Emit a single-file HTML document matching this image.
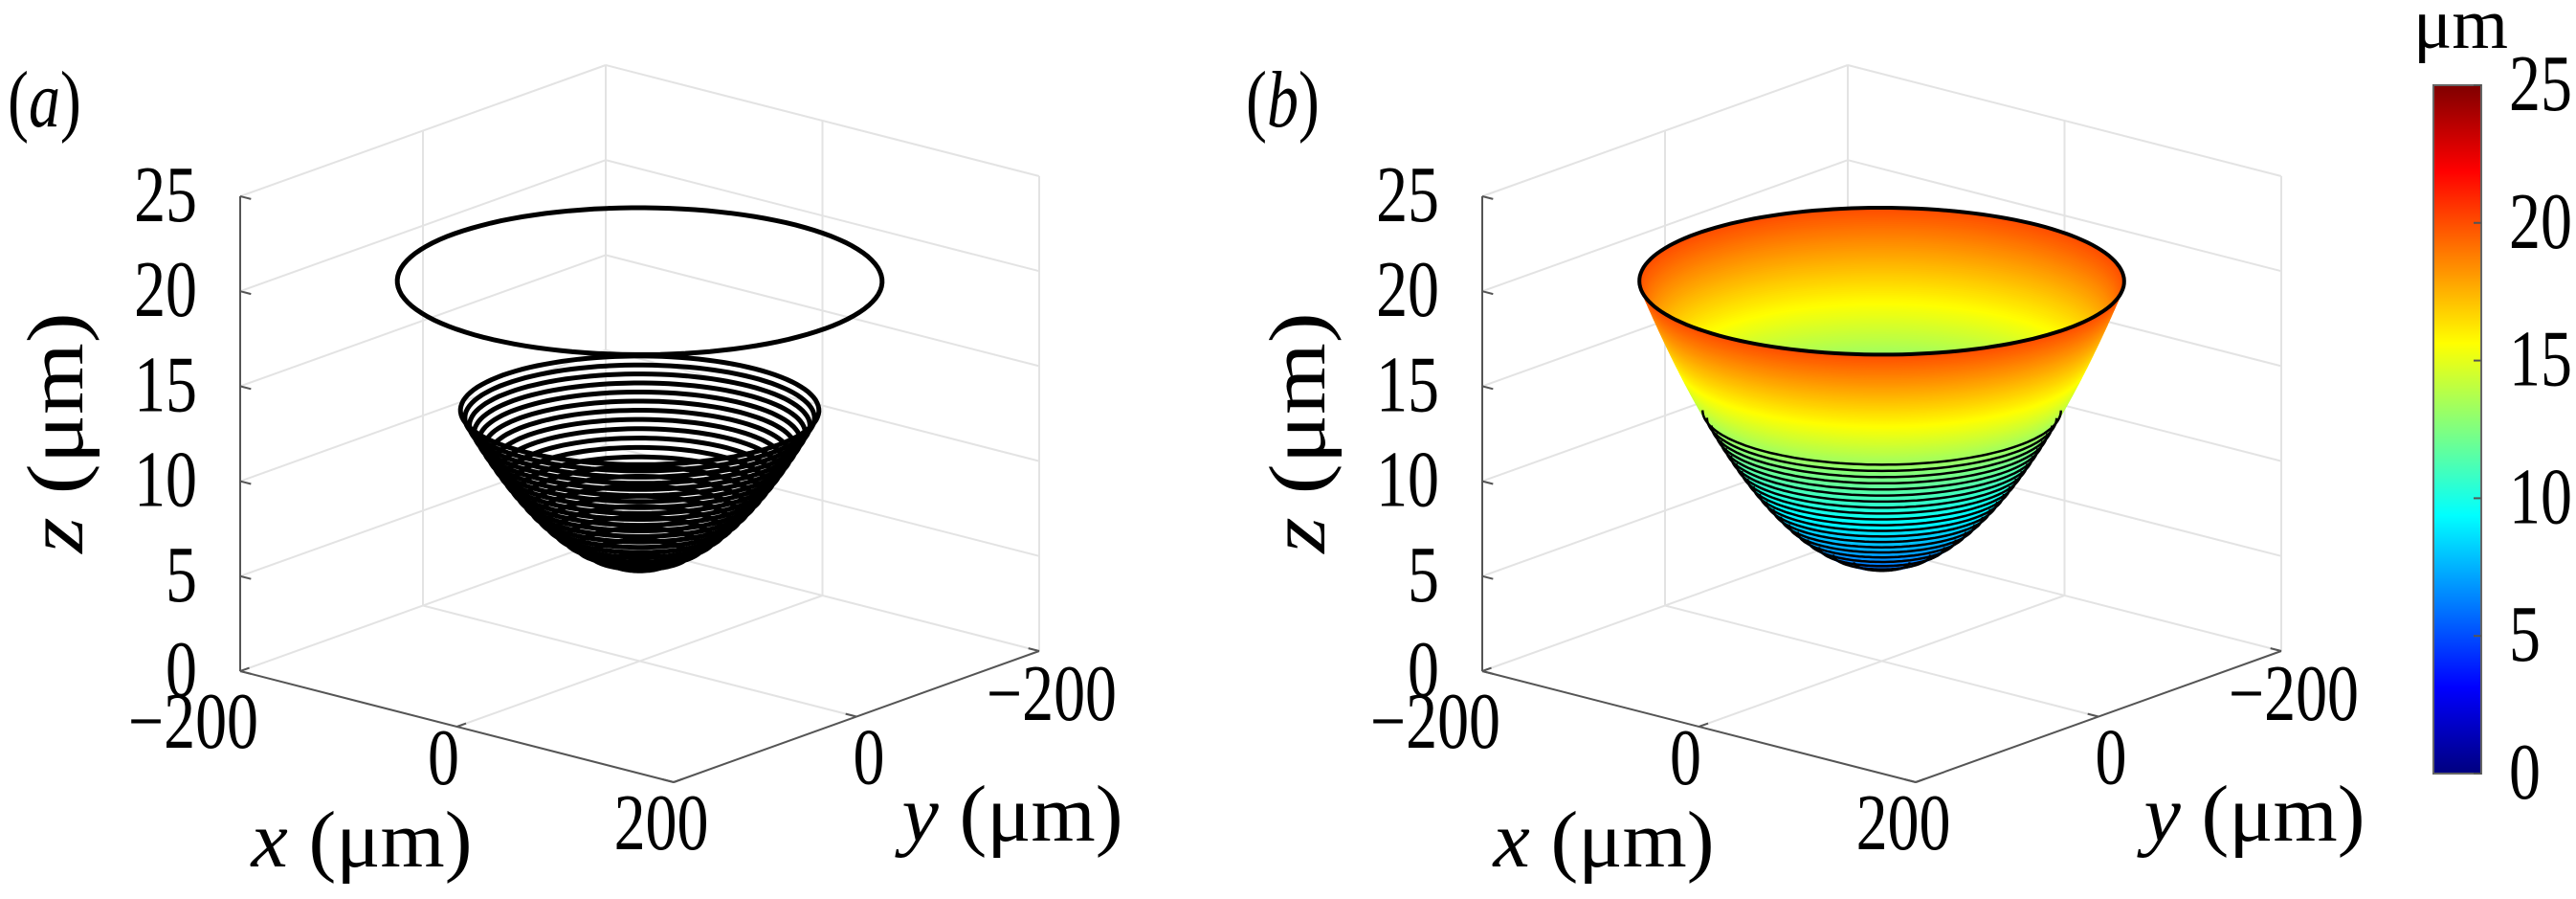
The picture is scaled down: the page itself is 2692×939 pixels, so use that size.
<!DOCTYPE html>
<html><head><meta charset="utf-8"><style>
html,body{margin:0;padding:0;background:#fff;}
svg{display:block;font-family:"Liberation Serif",serif;}
</style></head><body>
<svg id="fig" width="2692" height="939" viewBox="0 0 2692 939" xmlns="http://www.w3.org/2000/svg">
<defs>
<linearGradient id="jetgrad" x1="0" y1="1" x2="0" y2="0"></linearGradient>
</defs>
<g id="panelA"></g>
<g id="panelB"></g>
<g id="cbar"></g>
</svg>
<script>
const zTicks = [0, 5, 10, 15, 20, 25];
const xTicks = [-200, 0, 200];
const yTicks = [-200, 0, 200];
const ringZ = [5.2, 5.6, 6.0, 6.4, 6.8, 7.2, 7.6, 8.0, 8.4, 8.8, 9.2, 9.6, 10.0, 10.4, 10.8, 11.2, 11.6, 12.0, 12.4, 12.8, 13.2];
const topRingZ = [20];
const vertexZ = [5];
const curvature = [0.000513];
const cbTicks = [0, 5, 10, 15, 20, 25];

const NS = "http://www.w3.org/2000/svg";
const svg = document.getElementById('fig');
const SX = 1.03, SY = 1.3;
function mk(tag, attrs, parent) {
  const e = document.createElementNS(NS, tag);
  for (const k in attrs) e.setAttribute(k, attrs[k]);
  parent.appendChild(e);
  return e;
}
function txt(parent, x, y, html, anchor, size, rot, sx) {
  const t = mk('text', {x: 0, y: 0, 'font-size': size || 64, 'text-anchor': anchor || 'start',
    transform: `translate(${x},${y})` + (rot ? ` rotate(${rot})` : '') + ` scale(${sx || SX},${SY})`}, parent);
  t.innerHTML = html;
  return t;
}
function jet(v) {
  const t = Math.max(0, Math.min(1, v / 25));
  const c = x => Math.round(255 * Math.max(0, Math.min(1, x)));
  return `rgb(${c(1.5 - Math.abs(4 * t - 3))},${c(1.5 - Math.abs(4 * t - 2))},${c(1.5 - Math.abs(4 * t - 1))})`;
}
function proj(dx) {
  return (x, y, z) => [668.5 + dx + 1.1325 * x - 0.955 * y, 690.5 + 0.29 * x + 0.3425 * y - 19.84 * z];
}
const th0 = Math.atan2(-0.955, 1.1325);
function radius(z) { return Math.sqrt(Math.max(0, z - vertexZ[0]) / curvature[0]); }
function ringPts(P, z, a0, a1, n) {
  const r = radius(z), pts = [];
  for (let i = 0; i <= n; i++) {
    const t = a0 + (a1 - a0) * i / n;
    pts.push(P(r * Math.cos(t), r * Math.sin(t), z));
  }
  return pts;
}
const ptsStr = pts => pts.map(p => p[0].toFixed(1) + ',' + p[1].toFixed(1)).join(' ');
const TITLE = (v) => `<tspan font-style="italic">${v}</tspan> (\u03bcm)`;

function drawAxes(g, dx) {
  const P = proj(dx);
  const grid = '#e3e3e3', ax = '#555';
  const lines = [];
  zTicks.forEach(z => {
    lines.push([P(-200, 200, z), P(-200, -200, z)]);
    lines.push([P(-200, -200, z), P(200, -200, z)]);
  });
  lines.push([P(-200, 0, 0), P(-200, 0, 25)]);
  lines.push([P(0, -200, 0), P(0, -200, 25)]);
  lines.push([P(-200, -200, 0), P(-200, -200, 25)]);
  lines.push([P(200, -200, 0), P(200, -200, 25)]);
  lines.push([P(0, 200, 0), P(0, -200, 0)]);
  lines.push([P(-200, 0, 0), P(200, 0, 0)]);
  lines.forEach(l => {
    const e = mk('line', {x1: l[0][0], y1: l[0][1], x2: l[1][0], y2: l[1][1], stroke: grid, 'stroke-width': 2}, g);
    
    
  });
  const axl = [[P(-200, 200, 0), P(-200, 200, 25), 'z-axis-line'], [P(-200, 200, 0), P(200, 200, 0), 'x-axis-line'], [P(200, 200, 0), P(200, -200, 0), 'y-axis-line']];
  axl.forEach(l => {
    const e = mk('line', {x1: l[0][0], y1: l[0][1], x2: l[1][0], y2: l[1][1], stroke: ax, 'stroke-width': 2}, g);
    
    
  });
  zTicks.forEach(z => {
    const a = P(-200, 200, z), b = P(-190, 200, z);
    const t = mk('line', {x1: a[0], y1: a[1], x2: b[0], y2: b[1], stroke: ax, 'stroke-width': 2}, g);
    
    
    const tx = txt(g, a[0] - 45, a[1] + 26, String(z), 'end');
    
    
  });
  const xOff = [[-49, 80], [-14, 60], [-13, 70]];
  xTicks.forEach((x, i) => {
    const a = P(x, 200, 0), b = P(x, 190, 0);
    const t = mk('line', {x1: a[0], y1: a[1], x2: b[0], y2: b[1], stroke: ax, 'stroke-width': 2}, g);
    
    
    const tx = txt(g, a[0] + xOff[i][0], a[1] + xOff[i][1], x < 0 ? '\u2212' + Math.abs(x) : String(x), 'middle');
    
    
  });
  yTicks.forEach((y, i) => {
    const a = P(200, y, 0), b = P(190, y, 0);
    const t = mk('line', {x1: a[0], y1: a[1], x2: b[0], y2: b[1], stroke: ax, 'stroke-width': 2}, g);
    
    
    if (y === 200) return;
    const off = y < 0 ? [13, 72] : [13, 70];
    const tx = txt(g, a[0] + off[0], a[1] + off[1], y < 0 ? '\u2212' + Math.abs(y) : String(y), 'middle');
    
    
  });
  const xl = txt(g, 378 + dx, 905, TITLE('x'), 'middle', 64, 0, 1.35);
  
  
  const yl = txt(g, 1058 + dx, 878, TITLE('y'), 'middle', 64, 0, 1.35);
  
  
  const zl = txt(g, 86 + dx, 452, TITLE('z'), 'middle', 64, -90, 1.5);
  
  
  return P;
}

const gA = document.getElementById('panelA');
const PA = drawAxes(gA, 0);
const la = txt(gA, 8, 132, '(<tspan font-style="italic">a</tspan>)');


ringZ.concat(topRingZ).forEach(z => {
  const e = mk('polygon', {points: ptsStr(ringPts(PA, z, 0, 2 * Math.PI, 120)), fill: 'none', stroke: '#000', 'stroke-width': 5}, gA);
  
  
});

const gB = document.getElementById('panelB');
const PB = drawAxes(gB, 1298);
const lb = txt(gB, 1302, 132, '(<tspan font-style="italic">b</tspan>)');


const zTop = topRingZ[0], z0 = vertexZ[0], steps = 160;
const surf = mk('g', {}, gB);


for (let i = 0; i < steps; i++) {
  const za = z0 + (zTop - z0) * i / steps, zb = z0 + (zTop - z0) * (i + 1) / steps;
  const lo = ringPts(PB, za, th0, th0 + Math.PI, 60), hi = ringPts(PB, zb, th0, th0 + Math.PI, 60);
  mk('polygon', {points: ptsStr(hi.concat(lo.reverse())), fill: jet((za + zb) / 2), stroke: jet((za + zb) / 2), 'stroke-width': 1.5}, surf);
}
const cp = mk('clipPath', {id: 'topclip'}, svg.querySelector('defs'));
mk('polygon', {points: ptsStr(ringPts(PB, zTop, 0, 2 * Math.PI, 160))}, cp);
const inner = mk('g', {'clip-path': 'url(#topclip)'}, surf);
for (let i = steps; i >= 0; i--) {
  const z = z0 + (zTop - z0) * i / steps;
  if (z <= z0) continue;
  mk('polygon', {points: ptsStr(ringPts(PB, z, 0, 2 * Math.PI, 100)), fill: jet(z), stroke: 'none'}, inner);
}
ringZ.forEach(z => {
  const e = mk('polyline', {points: ptsStr(ringPts(PB, z, th0, th0 + Math.PI, 80)), fill: 'none', stroke: '#000', 'stroke-width': 2.5}, gB);
  
  
});
topRingZ.forEach(z => {
  const e = mk('polygon', {points: ptsStr(ringPts(PB, z, 0, 2 * Math.PI, 160)), fill: 'none', stroke: '#000', 'stroke-width': 4}, gB);
  
  
});

const grad = document.getElementById('jetgrad');
for (let i = 0; i <= 64; i++) {
  mk('stop', {offset: (i / 64).toFixed(4), 'stop-color': jet(25 * i / 64)}, grad);
}
const cb = document.getElementById('cbar');
const cbX0 = 2543, cbX1 = 2593, cbTop = 89, cbBot = 808;
const cy = v => cbBot - (v / 25) * (cbBot - cbTop);
const rect = mk('rect', {x: cbX0, y: cbTop, width: cbX1 - cbX0, height: cbBot - cbTop, fill: 'url(#jetgrad)', stroke: '#666', 'stroke-width': 2}, cb);


cbTicks.forEach(v => {
  const y = cy(v);
  const t = mk('line', {x1: cbX1 - 8, y1: y, x2: cbX1, y2: y, stroke: '#555', 'stroke-width': 2}, cb);
  
  
  const tx = txt(cb, 2622, y + 26, String(v));
  
  
});
const unit = txt(cb, 2522, 50, '\u03bcm', 'start', 58, 0, 1.3);


</script>
</body></html>
